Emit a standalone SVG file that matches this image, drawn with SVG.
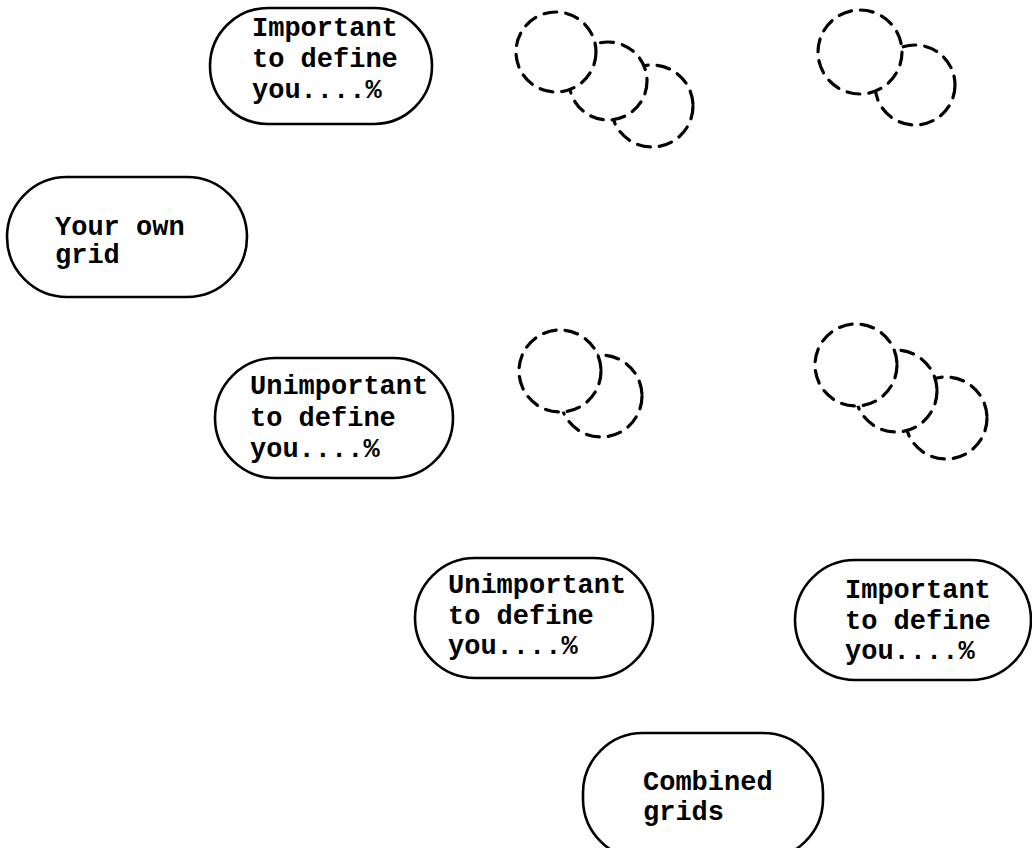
<svg xmlns="http://www.w3.org/2000/svg" width="1032" height="848" viewBox="0 0 1032 848">
<style>
.node{fill:#fff;stroke:#000;stroke-width:2.6}
.t{font-family:"Liberation Mono","Courier New",monospace;font-size:27px;font-weight:bold;fill:#000}
.dc{fill:#fff;stroke:#000;stroke-width:3.2;stroke-dasharray:13 9;stroke-linecap:round}
</style>
<rect width="1032" height="848" fill="#fff"/>
<g id="node-important-top">
<rect class="node" x="210" y="8" width="222" height="116" rx="58" ry="58"/>
<text class="t" x="252" y="36">Important</text>
<text class="t" x="252" y="67">to define</text>
<text class="t" x="252" y="98">you....%</text>
</g>
<g id="node-your-own-grid">
<rect class="node" x="7" y="177" width="240" height="120" rx="60" ry="60"/>
<text class="t" x="55" y="235">Your own</text>
<text class="t" x="55" y="263">grid</text>
</g>
<g id="node-unimportant-mid">
<rect class="node" x="215" y="358" width="238" height="120" rx="60" ry="60"/>
<text class="t" x="250" y="394">Unimportant</text>
<text class="t" x="250" y="426">to define</text>
<text class="t" x="250" y="457">you....%</text>
</g>
<g id="node-unimportant-low">
<rect class="node" x="415" y="558" width="238" height="120" rx="60" ry="60"/>
<text class="t" x="448" y="593">Unimportant</text>
<text class="t" x="448" y="624">to define</text>
<text class="t" x="448" y="654">you....%</text>
</g>
<g id="node-important-low">
<rect class="node" x="795" y="560" width="236" height="120" rx="60" ry="60"/>
<text class="t" x="845" y="598">Important</text>
<text class="t" x="845" y="629">to define</text>
<text class="t" x="845" y="659">you....%</text>
</g>
<g id="node-combined">
<rect class="node" x="583" y="733" width="240" height="126" rx="60" ry="60"/>
<text class="t" x="643" y="790">Combined</text>
<text class="t" x="643" y="820">grids</text>
</g>
<g id="circles-three-top">
<circle class="dc" cx="652" cy="106" r="41"/>
<circle class="dc" cx="608" cy="81" r="39"/>
<circle class="dc" cx="556" cy="52" r="40"/>
</g>
<g id="circles-two-top">
<circle class="dc" cx="915" cy="85" r="40"/>
<circle class="dc" cx="860" cy="52" r="42"/>
</g>
<g id="circles-two-mid">
<circle class="dc" cx="601" cy="396" r="41"/>
<circle class="dc" cx="560" cy="371" r="41"/>
</g>
<g id="circles-three-mid">
<circle class="dc" cx="946" cy="418" r="41"/>
<circle class="dc" cx="896" cy="391" r="41"/>
<circle class="dc" cx="856" cy="365" r="41"/>
</g>
<g id="connectors"></g>
</svg>
